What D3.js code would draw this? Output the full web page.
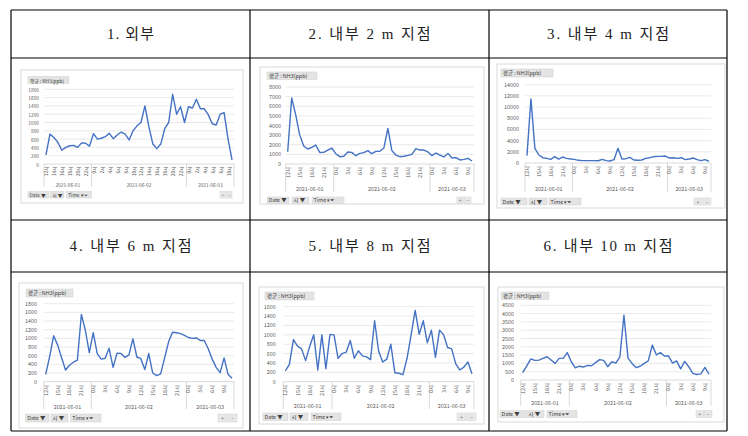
<!DOCTYPE html>
<html><head><meta charset="utf-8">
<script src="https://cdn.jsdelivr.net/npm/d3@7"></script>
<style>html,body{margin:0;padding:0;background:#fff;}svg{display:block;}</style>
</head><body>
<svg id="c" width="748" height="436"></svg>
<script>
// ---------- DATA ----------
const titles = ["1. 외부","2. 내부 2 m 지점","3. 내부 4 m 지점","4. 내부 6 m 지점","5. 내부 8 m 지점","6. 내부 10 m 지점"];
const dayLabels = ["2021-06-01","2021-06-02","2021-06-03"];
// hours (06-01 12시 .. 06-03 11시 / 10시)
const hours48 = [12,13,14,15,16,17,18,19,20,21,22,23,
  0,1,2,3,4,5,6,7,8,9,10,11,12,13,14,15,16,17,18,19,20,21,22,23,
  0,1,2,3,4,5,6,7,8,9,10,11];
const hours47 = [12,13,14,15,16,17,18,19,20,21,22,23,
  0,1,2,3,4,5,6,7,8,9,10,11,12,13,14,15,16,17,18,19,20,21,22,23,
  0,1,2,3,4,5,6,7,8,9,10];
const outside = [220,720,640,520,330,400,440,450,400,510,500,430,
  730,600,620,660,740,610,700,770,720,580,800,920,1000,1400,900,480,370,480,850,1000,1680,1200,1380,1000,
  1380,1350,1560,1330,1330,1190,970,940,1200,1240,600,100];
const in2m = [1280,6850,5100,3000,1870,1560,1730,1970,1200,1210,1450,1660,
  1070,760,800,1250,1210,860,1110,1180,1390,1070,1310,1330,1660,3700,1390,930,760,800,900,1000,1600,1450,1450,1250,
  870,1140,930,730,1100,620,660,420,480,590,310];
const in4m = [1310,11440,2620,1430,950,830,650,1130,710,1070,830,710,
  650,480,420,420,420,420,400,650,420,360,600,2620,700,770,1010,540,480,540,830,950,1130,1190,1190,1250,
  890,950,830,950,600,710,890,600,420,600,300];
const in6m = [170,580,1060,850,560,270,380,450,500,1550,1190,670,
  1130,650,520,540,770,330,660,650,560,620,990,570,530,280,650,200,140,180,550,920,1140,1130,1110,1070,
  1020,1000,1010,950,950,760,520,330,210,550,170,80];
const in8m = [230,370,900,760,700,450,750,1000,250,1000,280,1010,
  1000,500,600,630,880,500,660,550,530,470,1300,650,420,480,800,190,180,150,500,1000,1520,1010,1300,830,
  1100,520,1100,1000,730,700,380,250,310,420,170];
const in10m = [440,850,1270,1180,1200,1300,1400,1200,1000,1300,1300,1650,
  1100,730,830,780,880,860,1050,1230,1180,800,1100,1020,1400,3900,1320,1000,750,830,1000,1150,2100,1520,1650,1450,
  1450,1020,1150,670,1120,800,400,330,370,760,350];
const ticks1 = [0,200,400,600,800,1000,1200,1400,1600,1800];
const ticks2 = [0,1000,2000,3000,4000,5000,6000,7000,8000];
const ticks3 = [0,2000,4000,6000,8000,10000,12000,14000];
const ticks4 = [0,200,400,600,800,1000,1200,1400,1600,1800];
const ticks5 = [0,200,400,600,800,1000,1200,1400,1600];
const ticks6 = [0,500,1000,1500,2000,2500,3000,3500,4000,4500];
const seriesTitle = "평균 : NH3(ppb)";

// ---------- LAYOUT ----------
const titleWidths = [47,122,122,122,122,129];
const charts = [
 {vals:outside, hrs:hours48, ticks:ticks1, every:2, fs:4.8,
  box:[21,70,243,203], btn:[28,76.5,41,7], yLabR:39, axL:44, axR:234, yTop:89.3, yBot:164, xLabTop:166.5, dateY:184.5, sepB:187,
  bY:191.5, bH:6.5, bx:[[28,21,"Date ▼"],[50.7,13.3,"시 ▼"],[66.7,24.6,"Time ▾⏷"]], pm:[220,12]},
 {vals:in2m, hrs:hours47, ticks:ticks2, every:3, fs:5.4,
  box:[260,67,484,204], btn:[267,72,50,7.5], yLabR:281, axL:285.7, axR:474, yTop:87, yBot:164, xLabTop:167, dateY:188.5, sepB:192,
  bY:197, bH:6.5, bx:[[267,22,"Date ▼"],[292,17,"시 ▼"],[312,32,"Time ▾⏷"]], pm:[457,14]},
 {vals:in4m, hrs:hours47, ticks:ticks3, every:3, fs:5.4,
  box:[497,64,725,208], btn:[501,69,52,8], yLabR:519, axL:525, axR:711, yTop:84.7, yBot:163, xLabTop:166, dateY:188.5, sepB:192,
  bY:198, bH:7, bx:[[501,26,"Date ▼"],[529,18,"시 ▼"],[549,32,"Time ▾⏷"]], pm:[694,17]},
 {vals:in6m, hrs:hours48, ticks:ticks4, every:3, fs:5.4,
  box:[19,283,243,428], btn:[26,289,47,8], yLabR:37, axL:43.7, axR:234, yTop:303.7, yBot:381.7, xLabTop:385, dateY:406.5, sepB:409,
  bY:414, bH:8, bx:[[25.7,23.3,"Date ▼"],[51,17,"시 ▼"],[70.7,30.3,"Time ▾⏷"]], pm:[218,19]},
 {vals:in8m, hrs:hours47, ticks:ticks5, every:3, fs:5.4,
  box:[259,287,484,424], btn:[265,292,49,8], yLabR:275.7, axL:283.3, axR:474, yTop:306.7, yBot:381.7, xLabTop:385, dateY:406, sepB:409,
  bY:413, bH:7.5, bx:[[263,25,"Date ▼"],[290,18,"시 ▼"],[311,30,"Time ▾⏷"]], pm:[457,19]},
 {vals:in10m, hrs:hours47, ticks:ticks6, every:3, fs:5.4,
  box:[498,287,724,422], btn:[501,292,48,7.5], yLabR:514, axL:520.7, axR:711, yTop:305.3, yBot:380, xLabTop:383, dateY:403, sepB:406,
  bY:410.7, bH:7, bx:[[500,26,"Date ▼"],[527,17,"시 ▼"],[547,30,"Time ▾⏷"]], pm:[696,16]}
];

const svg = d3.select("#c");
const FONT = "'Noto Sans CJK KR','Noto Sans',sans-serif";

// ---------- TABLE ----------
const colX = [11,250,489,727];
const rowY = [10,58,220,272,431];
const tbl = svg.append("g").attr("stroke","#000").attr("stroke-width",1.2);
colX.forEach(x=>tbl.append("line").attr("x1",x).attr("x2",x).attr("y1",rowY[0]).attr("y2",rowY[4]));
rowY.forEach(y=>tbl.append("line").attr("x1",colX[0]).attr("x2",colX[3]).attr("y1",y).attr("y2",y));
titles.forEach((t,i)=>{
  const c = i%3, r = Math.floor(i/3);
  svg.append("text").attr("x",(colX[c]+colX[c+1])/2).attr("y",(rowY[r*2]+rowY[r*2+1])/2)
    .attr("text-anchor","middle").attr("dominant-baseline","central")
    .attr("textLength",titleWidths[i]).attr("lengthAdjust","spacing")
    .attr("font-family","'Liberation Serif','Noto Sans CJK KR',serif").attr("font-size",15).attr("fill","#222").text(t);
});

// ---------- CHARTS ----------
charts.forEach(cf=>{
  const g = svg.append("g").attr("font-family",FONT);
  const [bx0,by0,bx1,by1] = cf.box;
  g.append("rect").attr("x",bx0).attr("y",by0).attr("width",bx1-bx0).attr("height",by1-by0)
    .attr("fill","#fff").attr("stroke","#d9d9d9").attr("stroke-width",1);
  // series button
  g.append("rect").attr("x",cf.btn[0]).attr("y",cf.btn[1]).attr("width",cf.btn[2]).attr("height",cf.btn[3])
    .attr("fill","#e4e4e4").attr("stroke","#cfcfcf").attr("stroke-width",0.5);
  g.append("text").attr("x",cf.btn[0]+2).attr("y",cf.btn[1]+cf.btn[3]/2).attr("dominant-baseline","central")
    .attr("font-size",cf.fs).attr("fill","#404040").text(seriesTitle);

  const n = cf.vals.length;
  const yMax = cf.ticks[cf.ticks.length-1];
  const y = d3.scaleLinear().domain([0,yMax]).range([cf.yBot,cf.yTop]);
  const x = d3.scaleBand().domain(d3.range(n)).range([cf.axL,cf.axR]).padding(0);
  const bw = x.bandwidth();

  // gridlines + y labels
  cf.ticks.forEach(t=>{
    g.append("line").attr("x1",cf.axL).attr("x2",cf.axR).attr("y1",y(t)).attr("y2",y(t))
      .attr("stroke", t===0 ? "#d0d0d0" : "#e3e3e3").attr("stroke-width",0.8);
    g.append("text").attr("x",cf.yLabR).attr("y",y(t)).attr("text-anchor","end").attr("dominant-baseline","central")
      .attr("font-size",cf.fs).attr("fill","#595959").text(t);
  });

  // day groups
  const dayIdx = []; let d = 0;
  cf.hrs.forEach((h,i)=>{ if(i>0 && h===0) d++; dayIdx.push(d); });
  const bounds = [0];
  dayIdx.forEach((v,i)=>{ if(i>0 && v!==dayIdx[i-1]) bounds.push(i); });
  bounds.push(n);
  bounds.forEach(b=>{
    const xx = b===n ? cf.axR : x(b);
    g.append("line").attr("x1",xx).attr("x2",xx).attr("y1",cf.yBot).attr("y2",cf.sepB)
      .attr("stroke","#d0d0d0").attr("stroke-width",0.8);
  });
  for(let k=0;k<bounds.length-1;k++){
    const xa = x(bounds[k]), xb = bounds[k+1]===n ? cf.axR : x(bounds[k+1]);
    g.append("text").attr("x",(xa+xb)/2).attr("y",cf.dateY).attr("text-anchor","middle").attr("dominant-baseline","central")
      .attr("font-size",cf.fs).attr("fill","#595959").text(dayLabels[k]);
  }
  // hour labels (rotated)
  cf.hrs.forEach((h,i)=>{
    if(i % cf.every !== 0) return;
    const cx = x(i)+bw/2;
    g.append("text").attr("transform",`translate(${cx},${cf.xLabTop}) rotate(-90)`)
      .attr("text-anchor","end").attr("dominant-baseline","central")
      .attr("font-size",cf.fs).attr("fill","#595959").text(h+"시");
  });

  // line
  const line = d3.line().x((v,i)=>x(i)+bw/2).y(v=>y(v));
  g.append("path").datum(cf.vals).attr("d",line).attr("fill","none")
    .attr("stroke","#4472c4").attr("stroke-width",1.4).attr("stroke-linejoin","round");

  // bottom buttons
  cf.bx.forEach(b=>{
    g.append("rect").attr("x",b[0]).attr("y",cf.bY).attr("width",b[1]).attr("height",cf.bH)
      .attr("fill","#e4e4e4").attr("stroke","#cfcfcf").attr("stroke-width",0.5);
    g.append("text").attr("x",b[0]+1.5).attr("y",cf.bY+cf.bH/2).attr("dominant-baseline","central")
      .attr("font-size",cf.fs).attr("fill","#404040").text(b[2]);
  });
  const pw = cf.pm[1]/2 - 0.5;
  ["+","−"].forEach((s,k)=>{
    const px = cf.pm[0] + k*(pw+1);
    g.append("rect").attr("x",px).attr("y",cf.bY).attr("width",pw).attr("height",cf.bH)
      .attr("fill","#e8e8e8").attr("stroke","#d0d0d0").attr("stroke-width",0.5);
    g.append("text").attr("x",px+pw/2).attr("y",cf.bY+cf.bH/2).attr("text-anchor","middle").attr("dominant-baseline","central")
      .attr("font-size",cf.fs).attr("fill","#777").text(s);
  });
});
</script>
</body></html>
